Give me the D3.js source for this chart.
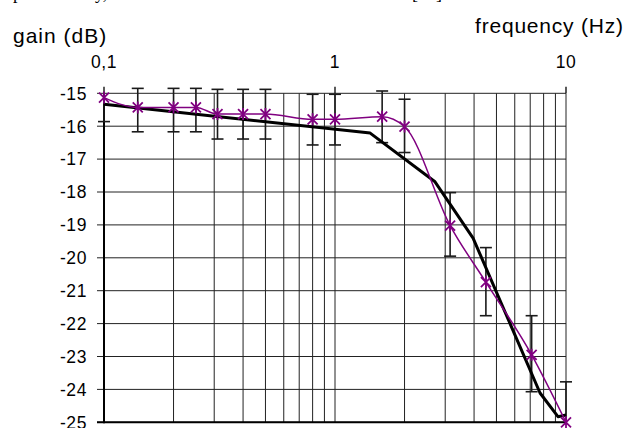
<!DOCTYPE html>
<html>
<head>
<meta charset="utf-8">
<script src="https://cdn.jsdelivr.net/npm/d3@7"></script>
<style>
body { margin: 0; background: white; }
svg { display: block; }
</style>
</head>
<body>
<div id="chartWrapper"></div>
<script>
var freq = [0.1, 0.14, 0.2, 0.25, 0.31, 0.4, 0.5, 0.8, 1.0, 1.6, 2.0, 3.15, 4.5, 7.1, 10];
var gain = [-15.13, -15.43, -15.43, -15.43, -15.63, -15.63, -15.63, -15.79, -15.79, -15.71, -16.01, -19.02, -20.74, -22.95, -25.0];
var errHi = [null, -14.85, -14.85, -14.85, -14.88, -14.88, -14.88, -15.03, -15.03, -14.93, -15.18, -18.02, -19.69, -21.76, -23.77];
var errLo = [-15.86, -16.17, -16.17, -16.17, -16.39, -16.39, -16.39, -16.57, -16.57, -16.5, -16.8, -19.95, -21.76, -24.07, null];

var modelFreq = [0.1, 1.42, 2.71, 3.96, 7.72, 9.23, 10];
var modelGain = [-15.33, -16.21, -17.69, -19.40, -24.11, -24.83, -24.78];

var xTicks = [0.1, 1, 10];
var xTickLabels = ["0,1", "1", "10"];
var yTicks = [-15, -16, -17, -18, -19, -20, -21, -22, -23, -24, -25];

var w = 630;
var h = 428;
var purple = "#800080";

var svg = d3.select("#chartWrapper")
    .append("svg")
    .attr("width", w)
    .attr("height", h);

var x = d3.scaleLog().domain([0.1, 10]).range([104, 566]);
var y = d3.scaleLinear().domain([-25, -15]).range([422.3, 93.3]);

// cut-off line of the page above
var frag = svg.append("g")
    .style("font-family", "'Liberation Serif', serif")
    .style("font-size", "18px")
    .attr("fill", "#000");
frag.append("text").attr("x", 13).attr("y", -1.5).text("p");
frag.append("text").attr("x", 95).attr("y", -1.5).text("y,");
frag.append("text").attr("x", 412).attr("y", -1.5).text("[12]");

// vertical grid (log minors)
var minors = [];
[0.1, 1].forEach(function(d) {
    for (var i = 1; i <= 9; i++) minors.push(d * i);
});
minors.push(10);

svg.append("g").selectAll("line")
    .data(minors)
    .enter().append("line")
    .attr("x1", function(d) { return x(d); })
    .attr("x2", function(d) { return x(d); })
    .attr("y1", y(-15))
    .attr("y2", y(-25))
    .attr("stroke", "#222")
    .attr("stroke-width", 1);

// horizontal grid + left ticks
svg.append("g").selectAll("line")
    .data(yTicks)
    .enter().append("line")
    .attr("x1", 97)
    .attr("x2", x(10))
    .attr("y1", function(d) { return y(d); })
    .attr("y2", function(d) { return y(d); })
    .attr("stroke", "#222")
    .attr("stroke-width", 1);

// top ticks
svg.append("g").selectAll("line")
    .data(xTicks)
    .enter().append("line")
    .attr("x1", function(d) { return x(d); })
    .attr("x2", function(d) { return x(d); })
    .attr("y1", y(-15) - 6.5)
    .attr("y2", y(-15))
    .attr("stroke", "#000")
    .attr("stroke-width", 1.3);

// axis lines
svg.append("line")
    .attr("x1", x(0.1)).attr("x2", x(0.1))
    .attr("y1", y(-15)).attr("y2", y(-25) + 1)
    .attr("stroke", "#000").attr("stroke-width", 2);
svg.append("line")
    .attr("x1", 97).attr("x2", x(10))
    .attr("y1", y(-25)).attr("y2", y(-25))
    .attr("stroke", "#000").attr("stroke-width", 2);

// labels
svg.append("g").selectAll("text")
    .data(yTicks)
    .enter().append("text")
    .attr("x", 87)
    .attr("y", function(d) { return y(d); })
    .attr("dy", "0.36em")
    .attr("text-anchor", "end")
    .style("font-family", "'Liberation Sans', Arial, sans-serif")
    .style("font-size", "17.5px")
    .style("letter-spacing", "0.6px")
    .text(function(d) { return d; });

svg.append("g").selectAll("text")
    .data(xTicks)
    .enter().append("text")
    .attr("x", function(d) { return x(d); })
    .attr("y", 67.5)
    .attr("text-anchor", "middle")
    .style("font-family", "'Liberation Sans', Arial, sans-serif")
    .style("font-size", "17.5px")
    .style("letter-spacing", "0.6px")
    .text(function(d, i) { return xTickLabels[i]; });

svg.append("text")
    .attr("x", 13)
    .attr("y", 43)
    .style("font-family", "'Liberation Sans', Arial, sans-serif")
    .style("font-size", "21px")
    .style("letter-spacing", "1px")
    .text("gain (dB)");

svg.append("text")
    .attr("x", 475)
    .attr("y", 33)
    .style("font-family", "'Liberation Sans', Arial, sans-serif")
    .style("font-size", "21px")
    .style("letter-spacing", "0.8px")
    .text("frequency (Hz)");

// error bars
var pts = freq.map(function(f, i) {
    return { f: f, g: gain[i], hi: errHi[i], lo: errLo[i] };
});

var eb = svg.append("g")
    .attr("stroke", "#1a1a1a")
    .attr("stroke-width", 1.6);

pts.forEach(function(d) {
    var cx = x(d.f);
    var top = d.hi === null ? y(d.g) : y(d.hi);
    var bot = d.lo === null ? y(-25) : y(d.lo);
    eb.append("line")
        .attr("x1", cx).attr("x2", cx)
        .attr("y1", top).attr("y2", bot);
    if (d.hi !== null) {
        eb.append("line")
            .attr("x1", cx - 6).attr("x2", cx + 6)
            .attr("y1", top).attr("y2", top);
    }
    if (d.lo !== null) {
        eb.append("line")
            .attr("x1", cx - 6).attr("x2", cx + 6)
            .attr("y1", bot).attr("y2", bot);
    }
});

// model line
var model = modelFreq.map(function(f, i) { return [f, modelGain[i]]; });
svg.append("path")
    .datum(model)
    .attr("d", d3.line()
        .x(function(d) { return x(d[0]); })
        .y(function(d) { return y(d[1]); }))
    .attr("fill", "none")
    .attr("stroke", "#000")
    .attr("stroke-width", 3)
    .attr("stroke-linejoin", "round");

// measured line
svg.append("path")
    .datum(pts)
    .attr("d", d3.line()
        .curve(d3.curveMonotoneX)
        .x(function(d) { return x(d.f); })
        .y(function(d) { return y(d.g); }))
    .attr("fill", "none")
    .attr("stroke", purple)
    .attr("stroke-width", 1.5);

// asterisk markers
var mk = svg.append("g")
    .attr("stroke", purple)
    .attr("stroke-width", 1.8);

pts.forEach(function(d) {
    var cx = x(d.f), cy = y(d.g), s = 5;
    mk.append("path")
        .attr("d", "M" + (cx - s) + "," + (cy - s) + "L" + (cx + s) + "," + (cy + s) +
            "M" + (cx - s) + "," + (cy + s) + "L" + (cx + s) + "," + (cy - s) +
            "M" + cx + "," + (cy - s - 1) + "L" + cx + "," + (cy + s + 1));
});
</script>
</body>
</html>
